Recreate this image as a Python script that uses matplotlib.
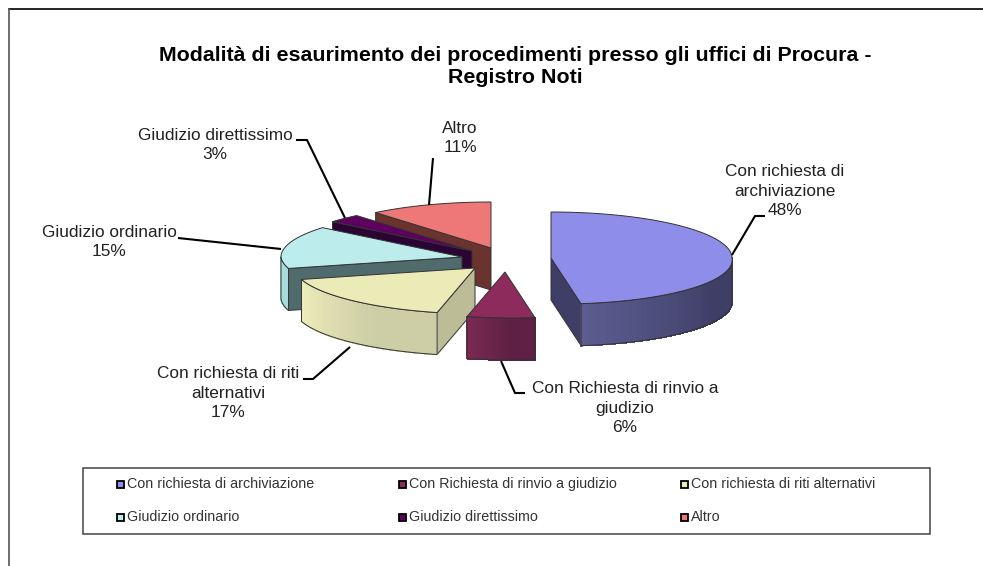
import numpy as np
import matplotlib
matplotlib.use("Agg")
import matplotlib.pyplot as plt
from matplotlib.patches import Polygon, Rectangle
from matplotlib.colors import to_rgb

# ---- data
categories = ["Con richiesta di archiviazione", "Con Richiesta di rinvio a giudizio",
              "Con richiesta di riti alternativi", "Giudizio ordinario",
              "Giudizio direttissimo", "Altro"]
values = [48, 6, 17, 15, 3, 11]
title = "Modalità di esaurimento dei procedimenti presso gli uffici di Procura -\nRegistro Noti"

# ---- style and layout (pixels of the 983x566 canvas)
W, H = 983, 566
top_col = ["#8e8eea", "#8c2b5c", "#ebebb8", "#bcecec", "#5d0060", "#ee7777"]
radial_col = ["#3e3e66", "#5e2044", "#bcbc96", "#4f6b6b", "#2a0533", "#6b332e"]
arc_light = ["#5c5c90", "#7a2a52", "#eeeebc", "#a8dcdc", "#3a0040", "#a05050"]
arc_dark = ["#3e3e66", "#5e2044", "#cdcda6", "#a8dcdc", "#3a0040", "#a05050"]
apex = [(551, 258), (505, 272), (475, 268), (462, 257), (472, 251), (491, 248)]
RX, RY, DEPTH, SHEAR = 181, 46, 42, 0.16
label_pos = [(785, 191), (625, 408), (228, 393), (109, 242), (215, 145), (460, 138)]
leaders = [[(732, 255), (755, 216), (765, 216)], [(501, 361), (515, 393), (525, 393)],
           [(350, 347), (313, 379), (303, 379)], [(281, 249), (178, 238)],
           [(345, 218), (307, 140), (296, 140)], [(429, 205), (433, 158)]]
EDGE = "#333333"

plt.rcParams["font.family"] = ["Liberation Sans", "DejaVu Sans"]
fig = plt.figure(figsize=(W / 100, H / 100), dpi=100)
ax = fig.add_axes([0, 0, 1, 1])
ax.set_xlim(0, W)
ax.set_ylim(H, 0)
ax.axis("off")

ax.plot([8.5, W + 5], [8.5, 8.5], color="black", lw=1.2, zorder=0)
ax.plot([8.5, 8.5], [8.5, H + 5], color="#555555", lw=1.2, zorder=0)


def project(c, deg):
    a = np.radians(deg)
    dx, dy = RX * np.sin(a), -RY * np.cos(a)
    return np.column_stack([c[0] + dx + SHEAR * np.clip(dy, 0, None), c[1] + dy])


fracs = np.array(values, float) / sum(values)
edges = np.concatenate([[0], np.cumsum(fracs) * 360])
draw_order = [5, 4, 3, 2, 1, 0]
z = 1
for i in draw_order:
    a0, a1 = edges[i], edges[i + 1]
    c = np.array(apex[i], float)
    down = np.array([0, DEPTH])
    # radial faces
    for ang, visible in ((a0, i in (2, 3, 4, 5)), (a1, i == 0)):
        if visible:
            p = project(c, ang)[0]
            ax.add_patch(Polygon([c, p, p + down, c + down], fc=radial_col[i], ec=EDGE, lw=0.7, zorder=z))
    # outer curved face, shaded in small steps
    lo, hi = max(a0, 90), min(a1, 270)
    if hi > lo:
        angs = np.linspace(lo, hi, 41)
        pts = project(c, angs)
        order = np.arange(40) if pts[0, 0] < pts[-1, 0] else np.arange(40)[::-1]
        for k, j in enumerate(order):
            t = min(1, k / 26)
            col = np.array(to_rgb(arc_light[i])) * (1 - t) + np.array(to_rgb(arc_dark[i])) * t
            q = [pts[j], pts[j + 1], pts[j + 1] + down, pts[j] + down]
            ax.add_patch(Polygon(q, fc=col, ec=col, lw=0.6, antialiased=False, zorder=z))
        outline = np.vstack([pts, pts[::-1] + down])
        ax.add_patch(Polygon(outline, fc="none", ec=EDGE, lw=0.7, zorder=z))
    # top face
    arc = project(c, np.linspace(a0, a1, 80))
    ax.add_patch(Polygon(np.vstack([c, arc]), fc=top_col[i], ec=EDGE, lw=0.7, zorder=z))
    z += 1

ax.text(515, 66.5, title, ha="center", va="center", fontsize=15.4, fontweight="bold",
        color="black", linespacing=1.15, zorder=20)

for i, name in enumerate(categories):
    xs, ys = zip(*leaders[i])
    ax.plot(xs, ys, color="black", lw=1.5, zorder=15, solid_capstyle="butt")
labels_wrapped = ["Con richiesta di\narchiviazione", "Con Richiesta di rinvio a\ngiudizio",
                  "Con richiesta di riti\nalternativi", "Giudizio ordinario",
                  "Giudizio direttissimo", "Altro"]
for i, t in enumerate(labels_wrapped):
    ax.text(label_pos[i][0], label_pos[i][1], f"{t}\n{values[i]}%", ha="center", va="center",
            fontsize=12.4, color="#222222", linespacing=1.36, zorder=20)

# legend
ax.add_patch(Rectangle((83, 468), 847, 66, fc="white", ec="#444444", lw=1.1, zorder=16))
leg_x = [116, 398, 680]
leg_y = [484, 517]
for i, name in enumerate(categories):
    x, y = leg_x[i % 3], leg_y[i // 3]
    ax.add_patch(Rectangle((x + 0.5, y - 3.5), 7, 7, fc=top_col[i], ec="black", lw=1.3, zorder=17))
    ax.text(x + 11, y, name, ha="left", va="center", fontsize=10.3, color="#333333", zorder=18)

fig.savefig("out.png", dpi=100)
